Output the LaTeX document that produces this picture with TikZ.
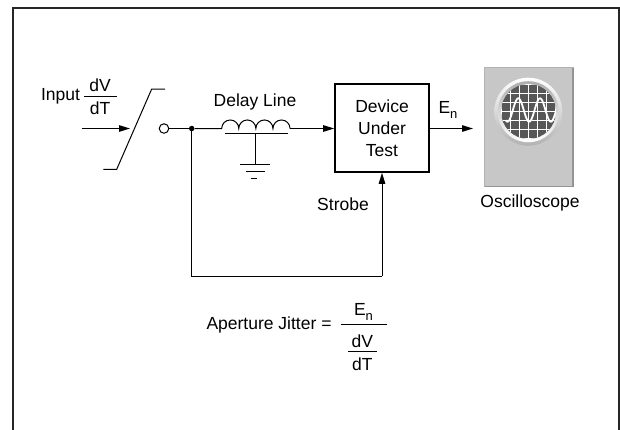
\documentclass[tikz,border=0pt]{standalone}
\usepackage{fontspec}
\setmainfont{Liberation Sans}
\usetikzlibrary{arrows.meta}
\begin{document}
\begin{tikzpicture}[x=1pt,y=-1pt,
  wire/.style={line width=1pt},
  sig/.style={wire,-{Triangle[length=11pt,width=6.5pt]}},
  lbl/.style={inner sep=0pt,font=\fontsize{17.5}{22}\selectfont},
  dutbox/.style={draw,line width=1.6pt,minimum width=94pt,minimum height=88pt,align=center,inner sep=0pt,font=\fontsize{17.5}{22}\selectfont},
  opencirc/.style={circle,draw,line width=1pt,fill=white,minimum size=9.5pt,inner sep=0pt},
  jdot/.style={circle,fill=black,minimum size=5.5pt,inner sep=0pt},
  scopegray/.style={fill=black!22}]
\newcommand{\Esub}{E\raisebox{-0.45ex}{\fontsize{13}{13}\selectfont n}}
\useasboundingbox (0,0) rectangle (620,429);
% outer frame, open at the bottom
\draw[line width=1.8pt,black!85] (13,432) -- (13,8) -- (619,8) -- (619,432);

% input ramp
\node[lbl] (inp) at (60.5,96) {Input};
\node[lbl] (inn) at (100,85) {dV};
\node[lbl] (ind) at (100,108) {dT};
\draw[wire] (84,96.7) -- (116.7,96.7);

% switch
\coordinate (in0) at (82,128.5);
\coordinate (inarr) at (130,128.5);
\draw[sig] (in0) -- (inarr);
\draw[wire] (103.3,169.3) -- (116.7,169.3) -- (151.7,89) -- (165,89);
\node[opencirc] (sw) at (164,128.5) {};
\node[jdot] (j) at (191.7,128.5) {};
\draw[wire] (sw) -- (j);

% delay line coil
\coordinate (c0) at (221.7,128.5);
\coordinate (c1) at (290,128.5);
\draw[wire] (j) -- (c0)
  arc[start angle=180,end angle=0,radius=8.54pt]
  arc[start angle=180,end angle=0,radius=8.54pt]
  arc[start angle=180,end angle=0,radius=8.54pt]
  arc[start angle=180,end angle=0,radius=8.54pt];
\draw[wire] (225,133) -- (288,133);
\draw[wire] (255,133) -- (255,164);
\draw[wire] (240,164) -- (270,164);
\draw[wire] (246,171.5) -- (265,171.5);
\draw[wire] (250.5,178) -- (257,178);
\node[lbl] (dl) at (255,102) {Delay Line};

% device under test
\node[dutbox] (dut) at (382,128) {Device\\Under\\Test};
\draw[sig] (c1) -- (dut.west |- c1);
\coordinate (out) at (473,128.5);
\draw[sig] (dut.east |- out) -- (out);
\node[lbl] (en) at (448,110) {\Esub};

% strobe path
\coordinate (sb) at (191.7,276);
\draw[wire] (j) -- (sb) -- (sb -| dut.south);
\draw[sig] (sb -| dut.south) -- (dut.south);
\node[lbl] (strobe) at (343,204) {Strobe};

% oscilloscope
\draw[scopegray,draw=black!30,line width=0.8pt] (484.3,67.7) rectangle (573.3,186.7);
\draw[black!42,line width=1.4pt] (573,68) -- (573,186.5) -- (484.5,186.5);
\shade[top color=white,bottom color=black!30] (528.3,111.7) circle[radius=34pt];
\shade[top color=black!32,bottom color=white] (528.3,111.7) circle[radius=30.5pt];
\fill[black!66] (528.5,111.5) circle[radius=27.5pt];
\begin{scope}
  \clip (528.5,111.5) circle[radius=27.5pt];
  \foreach \k in {-3,...,3} {
    \draw[white,line width=0.8pt] (528.5+9*\k,80) -- (528.5+9*\k,143);
    \draw[white,line width=0.8pt] (497,111.5+9*\k) -- (560,111.5+9*\k);
  }
  \draw[white,line width=1.8pt] plot[domain=505.7:556.7,samples=90,smooth]
    (\x,{110-11.7*cos(360*(\x-518.3)/21.7)});
\end{scope}
\node[lbl] (osc) at (530,203) {Oscilloscope};

% aperture jitter formula
\node[lbl] (aj) at (269,325) {Aperture Jitter =};
\node[lbl] (fn) at (363.5,312) {\Esub};
\draw[wire] (341,324.3) -- (386.7,324.3);
\node[lbl] (fdv) at (362.3,341.5) {dV};
\draw[wire] (348,351.7) -- (376.7,351.7);
\node[lbl] (fdt) at (362.3,364) {dT};
\end{tikzpicture}
\end{document}
